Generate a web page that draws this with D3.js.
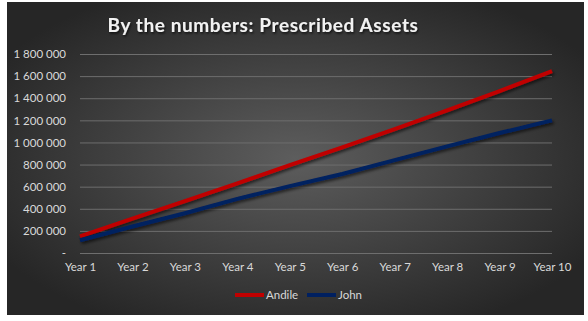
<!DOCTYPE html>
<html><head><meta charset="utf-8">
<script src="https://cdn.jsdelivr.net/npm/d3@7/dist/d3.min.js"></script>
<style>body{margin:0;background:#fff}svg{display:block}</style>
</head><body><svg id="c" width="588" height="321"></svg>
<script>
const categories = ["Year 1","Year 2","Year 3","Year 4","Year 5","Year 6","Year 7","Year 8","Year 9","Year 10"];
const andile = [150000,310000,470000,630000,795000,955000,1120000,1290000,1465000,1645000];
const john = [115000,240000,360000,490000,605000,715000,840000,965000,1085000,1200000];
const yTicks = [0,200000,400000,600000,800000,1000000,1200000,1400000,1600000,1800000];
const seriesNames = ["Andile","John"];
const seriesColors = ["#C00000","#002060"];

const svg = d3.select("#c");
const defs = svg.append("defs");
const rg = defs.append("radialGradient").attr("id","bg").attr("cx","50%").attr("cy","50%").attr("r","60%");
rg.append("stop").attr("offset","0%").attr("stop-color","#5d5d5d");
rg.append("stop").attr("offset","100%").attr("stop-color","#262626");
const f = defs.append("filter").attr("id","sh").attr("x","-10%").attr("y","-10%").attr("width","120%").attr("height","130%");
f.append("feDropShadow").attr("dx",1.5).attr("dy",2).attr("stdDeviation",1.5).attr("flood-color","#000").attr("flood-opacity",0.6);
const ft = defs.append("filter").attr("id","tsh");
ft.append("feDropShadow").attr("dx",1).attr("dy",1.5).attr("stdDeviation",1).attr("flood-color","#000").attr("flood-opacity",0.7);

svg.append("rect").attr("x",7).attr("y",2).attr("width",577).attr("height",313).attr("fill","url(#bg)");

svg.append("text").attr("x",263).attr("y",32).attr("text-anchor","middle")
  .attr("font-family","Lato, 'Open Sans', sans-serif").attr("font-weight","bold").attr("font-size",19)
  .attr("letter-spacing",0.6).attr("fill","#f2f2f2").attr("filter","url(#tsh)")
  .text("By the numbers: Prescribed Assets");

const x = d3.scalePoint().domain(categories).range([80,552]);
const y = d3.scaleLinear().domain([0,1800000]).range([253,54]);

const fmt = v => v === 0 ? "-" : d3.format(",")(v).replace(/,/g," ");

const yAxis = svg.append("g").attr("transform","translate(80,0)")
  .call(d3.axisLeft(y).tickValues(yTicks).tickSize(-472).tickPadding(14).tickFormat(fmt));
yAxis.select(".domain").remove();
yAxis.selectAll("line").attr("stroke","#6e6e6e").attr("stroke-width",1);
yAxis.selectAll("text").attr("fill","#d9d9d9").attr("font-family","Lato, sans-serif").attr("font-size",11.5);

const xAxis = svg.append("g").attr("transform","translate(0,253)")
  .call(d3.axisBottom(x).tickSize(0).tickPadding(10));
xAxis.select(".domain").remove();
xAxis.selectAll("text").attr("fill","#d9d9d9").attr("font-family","Lato, sans-serif").attr("font-size",11.5);

const line = d3.line().x((d,i)=>x(categories[i])).y(d=>y(d));
[andile, john].forEach((s,i)=>{
  svg.append("path").datum(s).attr("d",line).attr("fill","none")
    .attr("stroke",seriesColors[i]).attr("stroke-width",4).attr("filter","url(#sh)");
});

const legX = [235,307];
seriesNames.forEach((n,i)=>{
  svg.append("line").attr("x1",legX[i]).attr("x2",legX[i]+29).attr("y1",295).attr("y2",295)
    .attr("stroke",seriesColors[i]).attr("stroke-width",4);
  svg.append("text").attr("x",legX[i]+31).attr("y",299).attr("fill","#d9d9d9")
    .attr("font-family","Lato, sans-serif").attr("font-size",11.5).text(n);
});
</script></body></html>
